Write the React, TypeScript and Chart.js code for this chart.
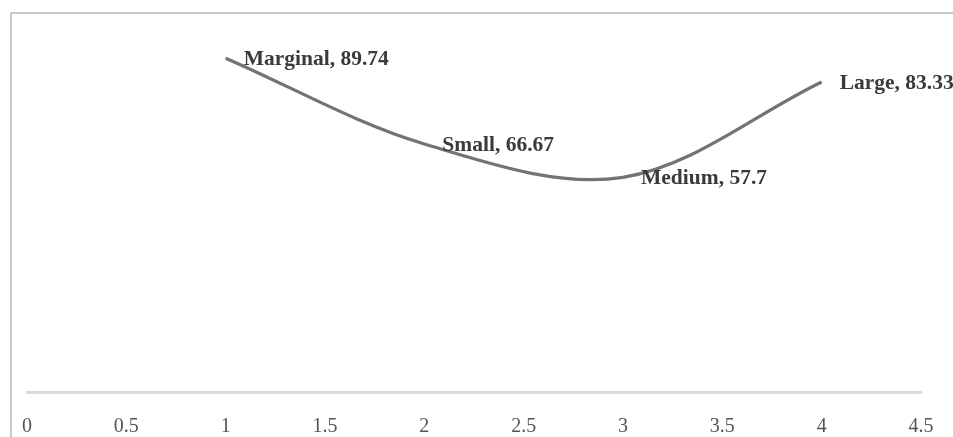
import React, { useEffect, useRef } from "react";
import { Chart, registerables } from "chart.js";

Chart.register(...registerables);

const categories = ["Marginal", "Small", "Medium", "Large"];
const xValues = [1, 2, 3, 4];
const yValues = [89.74, 66.67, 57.7, 83.33];

const frame = {
  id: "frame",
  beforeDraw(chart: any) {
    const ctx = chart.ctx;
    ctx.save();
    ctx.strokeStyle = "#c9c9c9";
    ctx.lineWidth = 2;
    ctx.beginPath();
    ctx.moveTo(11, chart.height);
    ctx.lineTo(11, 13);
    ctx.lineTo(chart.width, 13);
    ctx.stroke();
    ctx.restore();
  },
};

const pointLabels = {
  id: "pointLabels",
  afterDatasetsDraw(chart: any) {
    const ctx = chart.ctx;
    const meta = chart.getDatasetMeta(0);
    ctx.save();
    ctx.font = "bold 21.5px 'Liberation Serif', 'Times New Roman', serif";
    ctx.fillStyle = "#3a3a3a";
    ctx.textAlign = "left";
    ctx.textBaseline = "middle";
    meta.data.forEach((el: any, i: number) => {
      ctx.fillText(`${categories[i]}, ${yValues[i]}`, el.x + 18, el.y + 1);
    });
    ctx.restore();
  },
};

export default function App() {
  const ref = useRef<HTMLCanvasElement>(null);
  useEffect(() => {
    const chart = new Chart(ref.current!, {
      type: "line",
      data: {
        datasets: [
          {
            data: xValues.map((x, i) => ({ x, y: yValues[i] })),
            borderColor: "#737373",
            borderWidth: 3.2,
            pointRadius: 0,
            tension: 0.34,
            fill: false,
          },
        ],
      },
      options: {
        animation: false,
        responsive: false,
        layout: { padding: { left: 27, right: 32, top: 20, bottom: 0 } },
        plugins: { legend: { display: false }, tooltip: { enabled: false } },
        scales: {
          x: {
            type: "linear",
            min: 0,
            max: 4.5,
            grid: { display: false, drawTicks: false },
            border: { display: true, color: "#d9d9d9", width: 3 },
            ticks: {
              stepSize: 0.5,
              padding: 23,
              color: "#555555",
              font: { family: "'Liberation Serif', 'Times New Roman', serif", size: 20 },
              maxRotation: 0,
              autoSkip: false,
              callback: (v: any) => String(Number(v)),
            },
            afterFit(scale: any) {
              scale.height = 45;
              scale.paddingLeft = 0;
              scale.paddingRight = 0;
            },
          },
          y: { display: false, min: 0, max: 100 },
        },
      },
      plugins: [frame, pointLabels],
    });
    return () => chart.destroy();
  }, []);
  return (
    <div style={{ position: "fixed", left: 0, top: 0, width: 953, height: 437, background: "#fff" }}>
      <canvas ref={ref} width={953} height={437} style={{ display: "block" }} />
    </div>
  );
}
